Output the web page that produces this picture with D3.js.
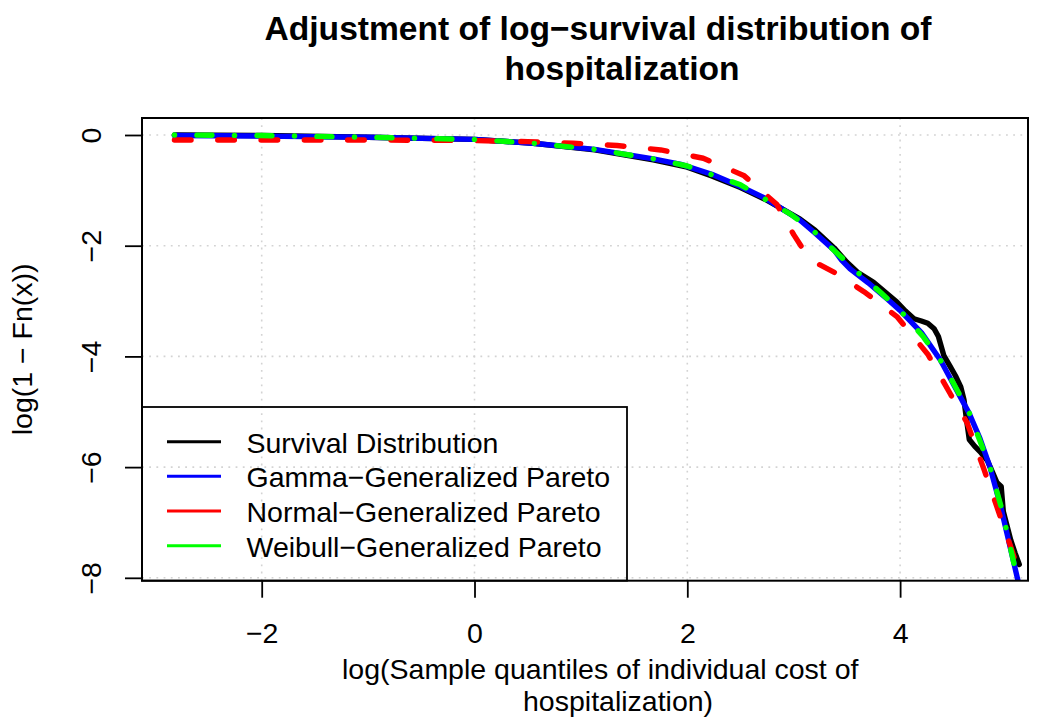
<!DOCTYPE html>
<html>
<head>
<meta charset="utf-8">
<script src="https://cdn.jsdelivr.net/npm/d3@7"></script>
<style>
  html, body { margin: 0; padding: 0; background: #ffffff; }
  svg { display: block; font-family: "Liberation Sans", Arial, Helvetica, sans-serif; }
</style>
</head>
<body>
<svg id="chart" width="1043" height="717"></svg>
<script>
// Empirical log-survival curve and three fitted spliced models (x = log cost, y = log(1 - Fn(x)))
const survivalPts = [
  [-2.82, 0.00], [-2.0, -0.01], [-1.0, -0.04], [0.0, -0.08], [0.55, -0.15], [1.13, -0.27],
  [1.68, -0.45], [2.0, -0.58], [2.23, -0.74], [2.5, -0.95], [2.73, -1.16], [3.06, -1.52],
  [3.2, -1.72], [3.38, -2.04], [3.5, -2.30], [3.6, -2.48], [3.75, -2.66], [3.97, -3.02],
  [4.05, -3.18], [4.13, -3.32], [4.2, -3.36], [4.26, -3.40], [4.32, -3.50], [4.36, -3.64],
  [4.41, -3.98], [4.47, -4.18], [4.52, -4.35], [4.57, -4.55], [4.60, -4.78], [4.62, -5.08],
  [4.65, -5.50], [4.70, -5.62], [4.76, -5.74], [4.82, -5.88], [4.87, -6.10], [4.91, -6.28],
  [4.95, -6.35], [4.97, -6.80], [5.04, -7.32], [5.08, -7.55], [5.12, -7.76]
];
const gammaGpdPts = [
  [-2.82, -0.01], [-2.0, -0.02], [-1.0, -0.04], [0.0, -0.08], [0.55, -0.15], [1.13, -0.26],
  [1.68, -0.43], [1.94, -0.53], [2.23, -0.71], [2.5, -0.93], [2.73, -1.14], [3.06, -1.54],
  [3.2, -1.77], [3.38, -2.08], [3.45, -2.26], [3.53, -2.42], [3.7, -2.67], [3.89, -2.98],
  [4.0, -3.17], [4.2, -3.57], [4.38, -4.07], [4.5, -4.50], [4.647, -5.02], [4.75, -5.48],
  [4.845, -6.0], [4.95, -6.75], [5.07, -7.74], [5.15, -8.4]
];
const normalGpdPts = [
  [-2.82, -0.09], [-2.0, -0.09], [-1.0, -0.09], [0.0, -0.10], [0.5, -0.12], [0.93, -0.15],
  [1.34, -0.19], [1.75, -0.27], [2.15, -0.42], [2.53, -0.73], [2.84, -1.25], [3.0, -1.80],
  [3.1, -2.10], [3.2, -2.30], [3.39, -2.49], [3.66, -2.83], [3.97, -3.28], [4.26, -3.96],
  [4.47, -4.67], [4.63, -5.20], [4.79, -6.05], [4.91, -6.72], [5.04, -7.44], [5.1, -7.8]
];
const weibullGpdPts = [
  [-2.82, 0.00], [-2.0, -0.01], [-1.0, -0.04], [0.0, -0.08], [0.55, -0.15], [1.13, -0.26],
  [1.68, -0.43], [2.0, -0.56], [2.5, -0.90], [2.97, -1.43], [3.2, -1.76], [3.41, -2.14],
  [3.6, -2.48], [3.82, -2.85], [4.0, -3.17], [4.22, -3.65], [4.38, -4.07], [4.5, -4.48],
  [4.65, -5.02], [4.845, -6.0], [4.95, -6.72], [5.07, -7.74]
];

const seriesNames = ["Survival Distribution", "Gamma\u2212Generalized Pareto",
                     "Normal\u2212Generalized Pareto", "Weibull\u2212Generalized Pareto"];
const seriesColors = ["#000000", "#0000ff", "#ff0000", "#00ff00"];
const xTickValues = [-2, 0, 2, 4];
const yTickValues = [0, -2, -4, -6, -8];
const titleLines = ["Adjustment of log\u2212survival distribution of", "hospitalization"];
const xLabelLines = ["log(Sample quantiles of individual cost of", "hospitalization)"];
const yLabel = "log(1 \u2212 Fn(x))";

const svg = d3.select("#chart");
const plot = { left: 142, right: 1028, top: 118, bottom: 580.7 };
const baseSize = 28.5;

const x = d3.scaleLinear().domain([-3.125, 5.202]).range([plot.left, plot.right]);
const y = d3.scaleLinear().domain([0.307, -8.052]).range([plot.top, plot.bottom]);

svg.append("defs").append("clipPath").attr("id", "plotClip")
  .append("rect")
  .attr("x", plot.left).attr("y", plot.top)
  .attr("width", plot.right - plot.left).attr("height", plot.bottom - plot.top);

// dotted grid at tick positions
const grid = svg.append("g").attr("stroke", "#d3d3d3").attr("stroke-width", 1.6)
  .attr("stroke-dasharray", "1.8,5.4");
grid.selectAll("line.vx").data(xTickValues).join("line")
  .attr("x1", d => x(d)).attr("x2", d => x(d))
  .attr("y1", plot.top).attr("y2", plot.bottom);
grid.selectAll("line.hy").data(yTickValues).join("line")
  .attr("x1", plot.left).attr("x2", plot.right)
  .attr("y1", d => y(d)).attr("y2", d => y(d));

// curves
const line = d3.line().x(d => x(d[0])).y(d => y(d[1]));
const curves = svg.append("g").attr("clip-path", "url(#plotClip)")
  .attr("fill", "none").attr("stroke-linecap", "round").attr("stroke-linejoin", "round");
const curveSpecs = [
  { pts: survivalPts, color: seriesColors[0], dash: null },
  { pts: gammaGpdPts, color: seriesColors[1], dash: null },
  { pts: normalGpdPts, color: seriesColors[2], dash: "16.6,26.7" },
  { pts: weibullGpdPts, color: seriesColors[3], dash: "0.1,22.4,15,22.5" }
];
curveSpecs.forEach(s => {
  curves.append("path").datum(s.pts)
    .attr("d", line)
    .attr("stroke", s.color)
    .attr("stroke-width", 5.4)
    .attr("stroke-dasharray", s.dash);
});

// axes
const fmt = d => d3.format("d")(d).replace("-", "\u2212");
const xAxis = d3.axisBottom(x).tickValues(xTickValues).tickSize(17).tickPadding(0).tickFormat(fmt);
const gx = svg.append("g").attr("transform", `translate(0,${plot.bottom})`).call(xAxis);
gx.select(".domain").remove();
gx.selectAll(".tick line").attr("stroke", "#000").attr("stroke-width", 1.8);
gx.selectAll(".tick text").attr("font-size", baseSize).attr("fill", "#000")
  .attr("font-family", "Liberation Sans, Arial, sans-serif")
  .attr("dy", null).attr("y", 62.3);

const yAxis = d3.axisLeft(y).tickValues(yTickValues).tickSize(17).tickFormat(fmt);
const gy = svg.append("g").attr("transform", `translate(${plot.left},0)`).call(yAxis);
gy.select(".domain").remove();
gy.selectAll(".tick line").attr("stroke", "#000").attr("stroke-width", 1.8);
gy.selectAll(".tick text")
  .attr("font-size", baseSize).attr("fill", "#000")
  .attr("font-family", "Liberation Sans, Arial, sans-serif")
  .attr("x", null).attr("dy", null).attr("y", null)
  .attr("text-anchor", "middle")
  .attr("transform", `translate(${101 - plot.left},0) rotate(-90)`);

// frame
svg.append("rect")
  .attr("x", plot.left).attr("y", plot.top)
  .attr("width", plot.right - plot.left).attr("height", plot.bottom - plot.top)
  .attr("fill", "none").attr("stroke", "#000").attr("stroke-width", 2);

// title
svg.append("g").selectAll("text").data(titleLines).join("text")
  .attr("x", 598).attr("y", (d, i) => 40 + i * 39.5)
  .attr("text-anchor", "middle")
  .attr("font-size", 33.6).attr("font-weight", "bold").attr("fill", "#000")
  .attr("dx", (d, i) => i === 1 ? 24 : 0)
  .text(d => d);

// x label
svg.append("g").selectAll("text").data(xLabelLines).join("text")
  .attr("x", (d, i) => i === 0 ? 342 : 523)
  .attr("y", (d, i) => 679 + i * 31.5)
  .attr("font-size", baseSize).attr("fill", "#000")
  .text(d => d);

// y label
svg.append("text")
  .attr("transform", `translate(32,${(plot.top + plot.bottom) / 2}) rotate(-90)`)
  .attr("text-anchor", "middle")
  .attr("font-size", baseSize).attr("fill", "#000")
  .text(yLabel);

// legend
const legend = svg.append("g");
legend.append("rect")
  .attr("x", plot.left).attr("y", 407)
  .attr("width", 627 - plot.left).attr("height", plot.bottom - 407)
  .attr("fill", "none").attr("stroke", "#000").attr("stroke-width", 1.8);
const rows = legend.selectAll("g.row").data(seriesNames).join("g")
  .attr("transform", (d, i) => `translate(0,${441.7 + i * 34.67})`);
rows.append("line")
  .attr("x1", 167).attr("x2", 221).attr("y1", 0).attr("y2", 0)
  .attr("stroke", (d, i) => seriesColors[i]).attr("stroke-width", 3);
rows.append("text")
  .attr("x", 246.5).attr("y", 11)
  .attr("font-size", baseSize).attr("fill", "#000")
  .text(d => d);
</script>
</body>
</html>
